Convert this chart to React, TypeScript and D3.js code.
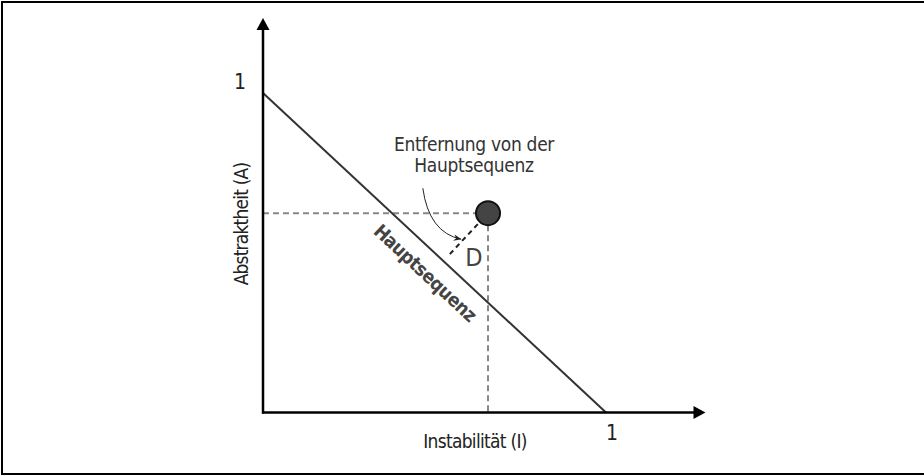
import React from 'react';
import * as d3 from 'd3';

// chart data (Instabilität I, Abstraktheit A)
const mainSequence: [number, number][] = [[0, 1], [1, 0]];
const componentPoint: [number, number] = [0.656, 0.624];
const axisMax: [number, number] = [1.29, 1.235];
const tickLabels = ['1'];
const xTitle = 'Instabilität (I)';
const yTitle = 'Abstraktheit (A)';
const seqLabel = 'Hauptsequenz';
const noteLines = ['Entfernung von der', 'Hauptsequenz'];
const distLabel = 'D';

const W = 924;
const H = 476;
const FONT = "'DejaVu Sans Condensed', 'Liberation Sans Narrow', sans-serif";

const App = () => {
    const x = d3.scaleLinear().domain([0, 1]).range([263, 606]);
    const y = d3.scaleLinear().domain([0, 1]).range([412.5, 93]);

    const lineGen = d3.line<[number, number]>()
        .x(d => x(d[0]))
        .y(d => y(d[1]));

    const px = x(componentPoint[0]);
    const py = y(componentPoint[1]);
    const r = 12;

    // perpendicular foot from the point onto the main sequence (pixel space)
    const ax = x(mainSequence[0][0]), ay = y(mainSequence[0][1]);
    const bx = x(mainSequence[1][0]), by = y(mainSequence[1][1]);
    const dx = bx - ax, dy = by - ay;
    const dl = Math.hypot(dx, dy);
    const t = ((px - ax) * dx + (py - ay) * dy) / (dl * dl);
    const fx = ax + t * dx, fy = ay + t * dy;
    const len = Math.hypot(fx - px, fy - py);
    const ux = (fx - px) / len, uy = (fy - py) / len;
    const dStart: [number, number] = [px + ux * (r + 3), py + uy * (r + 3)];
    const dEnd: [number, number] = [px + ux * len * 0.9, py + uy * len * 0.9];
    const mid: [number, number] = [(dStart[0] + dEnd[0]) / 2, (dStart[1] + dEnd[1]) / 2];

    const angle = Math.atan2(dy, dx) * 180 / Math.PI;
    // label along the main sequence, offset below-left of the line
    const lt = 0.515;
    const lx = ax + lt * dx - (dy / dl) * 21;
    const ly = ay + lt * dy + (dx / dl) * 21;

    const curve = `M${mid[0] - 40},${mid[1] - 52} Q${mid[0] - 34},${mid[1] - 8} ${mid[0] - 2},${mid[1] - 1}`;

    return (
        <svg width={W} height={H} style={{ position: 'absolute', left: 0, top: 0, display: 'block' }}
            fontFamily={FONT}>
            <defs>
                <marker id="tip" viewBox="0 0 10 10" refX="9" refY="5" markerWidth="8" markerHeight="8"
                    orient="auto" markerUnits="userSpaceOnUse">
                    <path d="M0,1 L10,5 L0,9 L3,5 Z" fill="#222" />
                </marker>
            </defs>
            <rect x={2} y={2} width={W + 10} height={H - 4} fill="#fff" stroke="#000" strokeWidth={2} />

            {/* dashed guides */}
            <line x1={x(0)} x2={px - r} y1={py} y2={py} stroke="#888" strokeWidth={2} strokeDasharray="6 4" />
            <line x1={px} x2={px} y1={py + r} y2={y(0)} stroke="#888" strokeWidth={2} strokeDasharray="6 4" />

            {/* main sequence */}
            <path d={lineGen(mainSequence) || ''} stroke="#333" strokeWidth={2} fill="none" />

            {/* axes */}
            <line x1={x(0)} x2={x(0)} y1={y(0) + 1} y2={y(axisMax[1]) + 10} stroke="#000" strokeWidth={2.5} />
            <path d={`M${x(0)},${y(axisMax[1])} l-6.5,12 l13,0 Z`} fill="#000" />
            <line x1={x(0) - 1} x2={x(axisMax[0]) - 10} y1={y(0)} y2={y(0)} stroke="#000" strokeWidth={2.5} />
            <path d={`M${x(axisMax[0])},${y(0)} l-12,-6.5 l0,13 Z`} fill="#000" />

            {/* D distance */}
            <line x1={dStart[0]} y1={dStart[1]} x2={dEnd[0]} y2={dEnd[1]} stroke="#222" strokeWidth={2}
                strokeDasharray="5 4" />
            <path d={curve} fill="none" stroke="#222" strokeWidth={1} markerEnd="url(#tip)" />

            <circle cx={px} cy={py} r={r} fill="#444" stroke="#111" strokeWidth={2} />

            {/* labels */}
            <text x={240} y={y(1) - 4} fontSize={21} textAnchor="middle" fill="#222">{tickLabels[0]}</text>
            <text x={x(1) + 6} y={y(0) + 27} fontSize={21} textAnchor="middle" fill="#222">{tickLabels[0]}</text>
            <text x={475} y={448} fontSize={19} letterSpacing={-0.7} textAnchor="middle" fill="#222">{xTitle}</text>
            <text transform={`translate(248,224) rotate(-90)`} fontSize={19} letterSpacing={-0.8}
                textAnchor="middle" fill="#222">{yTitle}</text>
            {noteLines.map((s, i) => (
                <text key={i} x={474} y={151 + i * 21} fontSize={19} letterSpacing={-0.3}
                    textAnchor="middle" fill="#333">{s}</text>
            ))}
            <text x={mid[0] + 11} y={mid[1] + 26} fontSize={25} textAnchor="middle" fill="#444">{distLabel}</text>
            <text transform={`translate(${lx},${ly}) rotate(${angle})`} dy="0.35em" fontSize={19}
                fontWeight="bold" letterSpacing={-0.5} textAnchor="middle" fill="#444">{seqLabel}</text>
        </svg>
    );
};

export default App;
